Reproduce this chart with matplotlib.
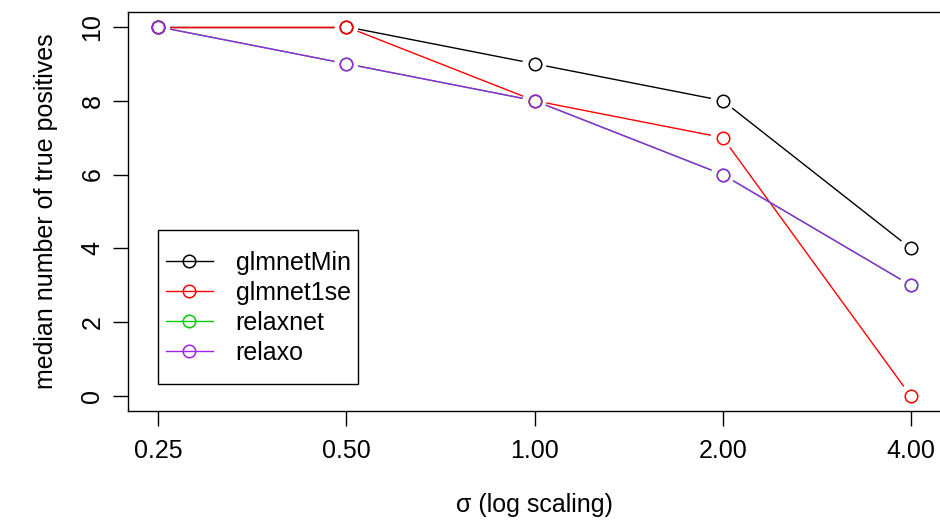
import numpy as np
import matplotlib
matplotlib.use("Agg")
from matplotlib import pyplot as plt
from matplotlib.lines import Line2D
from matplotlib.patches import Rectangle
from matplotlib.transforms import IdentityTransform

plt.rcParams['font.family'] = ['Liberation Sans', 'DejaVu Sans']

# datos
sigma = [0.25, 0.5, 1.0, 2.0, 4.0]
tick_labels = ['0.25', '0.50', '1.00', '2.00', '4.00']
metodos = ['glmnetMin', 'glmnet1se', 'relaxnet', 'relaxo']
glmnetMin = [10, 10, 9, 8, 4]
glmnet1se = [10, 10, 8, 7, 0]
relaxnet = [10, 9, 8, 6, 3]
relaxo = [10, 9, 8, 6, 3]
colores = ['black', '#FF0000', '#00CD00', '#A020F0']

fig = plt.figure(figsize=(9.4, 5.29), dpi=100)
# caja de 128 a 941 px en x, 12 a 411 px en y
ax = fig.add_axes([128 / 940, 118 / 529, 813 / 940, 399 / 529])
ax.set_xscale('log', base=2)
ax.set_xlim(0.25 * 2 ** -0.16, 4 * 2 ** 0.16)
ax.set_ylim(-0.4, 10.4)

gap = 12  # px, como type="b" de R
series = [glmnetMin, glmnet1se, relaxnet, relaxo]
for y, c in zip(series, colores):
    pts = ax.transData.transform(np.column_stack([sigma, y]))
    for i in range(len(pts) - 1):
        p0, p1 = pts[i], pts[i + 1]
        d = p1 - p0
        L = np.hypot(*d)
        if L <= 2 * gap:
            continue
        u = d / L
        seg = ax.transData.inverted().transform([p0 + u * gap, p1 - u * gap])
        ax.plot(seg[:, 0], seg[:, 1], color=c, lw=1.0, solid_capstyle='butt')
    ax.plot(sigma, y, 'o', ms=9, mfc='none', mec=c, mew=1.1, linestyle='none')

ax.set_xticks(sigma)
ax.set_xticklabels(tick_labels)
ax.xaxis.set_minor_locator(plt.NullLocator())
ax.set_yticks([0, 2, 4, 6, 8, 10])
ax.set_yticklabels(['0', '2', '4', '6', '8', '10'], rotation=90, va='center')
ax.tick_params(direction='out', length=11, width=1, labelsize=18, pad=6)
ax.tick_params(axis='x', pad=9)
for s in ax.spines.values():
    s.set_linewidth(1)

ax.set_xlabel('σ (log scaling)', fontsize=18, labelpad=22)
ax.set_ylabel('median number of true positives', fontsize=18, labelpad=16)

# leyenda estilo R: poco margen a los lados, mas arriba y abajo
handles = [Line2D([0], [0], color=c, lw=1.0, marker='o', ms=9, mfc='none', mec=c, mew=1.1)
           for c in colores]
leg = ax.legend(handles, metodos, loc='lower left', bbox_to_anchor=(0.037, 0.096),
                fontsize=18, frameon=False,
                handlelength=1.9, borderpad=0.3, labelspacing=0.24, handletextpad=0.9,
                borderaxespad=0)
fig.canvas.draw()
bb = leg.get_window_extent()
marco = Rectangle((bb.x0, bb.y0 - 11), bb.width, bb.height + 25, transform=IdentityTransform(),
                  fill=False, edgecolor='black', lw=1, zorder=6)
fig.add_artist(marco)

plt.savefig('out.png', dpi=100)
plt.close()
